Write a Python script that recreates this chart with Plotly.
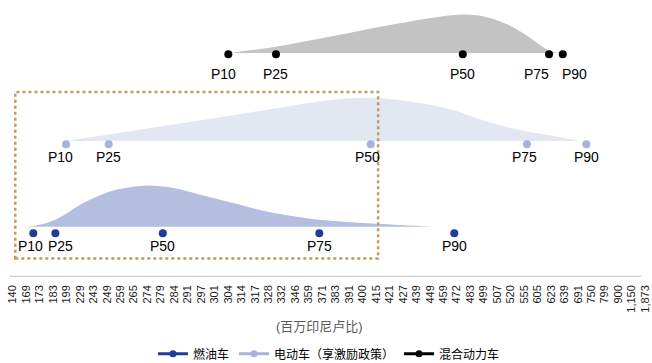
import plotly.graph_objects as go

# Price categories along the horizontal axis (million IDR)
categories = ["140", "169", "173", "183", "199", "229", "243", "249", "259", "265",
              "274", "279", "284", "291", "297", "301", "304", "314", "317", "328",
              "332", "346", "359", "371", "383", "391", "400", "415", "421", "427",
              "439", "449", "459", "472", "483", "499", "507", "520", "555", "605",
              "623", "639", "691", "750", "799", "900", "1,150", "1,873"]

pct_labels = ["P10", "P25", "P50", "P75", "P90"]

# Percentile positions on the category axis (index units)
ice_pct = [1.53, 3.17, 11.15, 22.78, 32.81]
ev_pct = [3.96, 7.13, 26.60, 38.21, 42.62]
hybrid_pct = [16.02, 19.56, 33.44, 39.85, 40.87]

# Price distribution curves: axis position and relative height
ice_curve_x = [0.67, 1.53, 3.17, 5.25, 7.23, 9.70, 11.93, 13.92, 16.39, 18.87, 22.78, 27.05, 31.25]
ice_curve_h = [0, 0.7, 7, 23.7, 35.3, 41, 38.7, 32, 23.7, 15.3, 7, 3, 0]

ev_curve_x = [4.01, 11.47, 17.63, 23.58, 25.4, 27.07, 30.26, 32.71, 35.24, 37.69, 40.15, 42.16]
ev_curve_h = [0, 15.5, 28.5, 41, 42.7, 43, 38, 31, 19.5, 11, 5, 0]

hybrid_curve_x = [16.15, 19.56, 23.06, 28.03, 31.75, 33.46, 35.0, 36.5, 37.9, 38.96, 39.77, 40.44]
hybrid_curve_h = [0, 6.3, 15, 28, 36.3, 38.5, 36.5, 30, 20, 10, 3, 0]

series_names = ["燃油车", "电动车（享激励政策）", "混合动力车"]

FONT = "Liberation Sans, Arial, Noto Sans CJK SC, sans-serif"

rows = [
    # name, pct, curve x, curve h, dot colour, fill colour, baseline, dot y, label y, label x-shifts
    (series_names[0], ice_pct, ice_curve_x, ice_curve_h, "#1F3C98", "#B4BFDF",
     50.3, 43.7, 31, [-3, 5, 0, 0, 0]),
    (series_names[1], ev_pct, ev_curve_x, ev_curve_h, "#A7B3DB", "#E3E7F2",
     136.0, 132.7, 120, [-6, 0, -3, -2, 0]),
    (series_names[2], hybrid_pct, hybrid_curve_x, hybrid_curve_h, "#000000", "#C3C3C3",
     224.0, 222.7, 203, [-5, 0, 0, -13, 12]),
]

fig = go.Figure()

# Filled distribution shapes
for name, pct, cx, ch, dot_c, fill_c, base, dot_y, lab_y, shifts in rows:
    fig.add_trace(go.Scatter(
        x=cx, y=[base + h for h in ch], mode="lines", fill="toself",
        fillcolor=fill_c, line=dict(width=0, shape="spline", smoothing=1.0),
        showlegend=False, hoverinfo="skip"))

# Percentile markers and labels
for name, pct, cx, ch, dot_c, fill_c, base, dot_y, lab_y, shifts in rows:
    fig.add_trace(go.Scatter(
        x=pct, y=[dot_y] * len(pct), mode="markers",
        marker=dict(size=8, color=dot_c), showlegend=False, hoverinfo="skip"))
    for p, lab, dx in zip(pct, pct_labels, shifts):
        fig.add_annotation(x=p, y=lab_y, text=lab, showarrow=False, xshift=dx,
                           font=dict(size=14, color="#000000", family=FONT))

# Legend entries
for name, pct, cx, ch, dot_c, fill_c, base, dot_y, lab_y, shifts in rows:
    fig.add_trace(go.Scatter(
        x=[None], y=[None], mode="lines+markers", name=name,
        line=dict(color=dot_c, width=3), marker=dict(size=7, color=dot_c)))

# Highlight box around the lower-priced segment
fig.add_shape(type="rect", xref="x", yref="y", x0=0.19, x1=27.15, y0=18.5, y1=185,
              line=dict(color="#C49A5C", width=2.5, dash="dot"), fillcolor="rgba(0,0,0,0)")

# Horizontal axis line
fig.add_shape(type="line", xref="x", yref="y", x0=-0.2, x1=46.7, y0=0.6, y1=0.6,
              line=dict(color="#D0D0D0", width=1.5))

fig.add_annotation(text="(百万印尼卢比)", xref="paper", yref="paper", x=0.486, y=-0.177,
                   yanchor="middle", showarrow=False,
                   font=dict(size=13, color="#595959", family=FONT))

fig.update_layout(
    width=652, height=363,
    margin=dict(l=6, r=0, t=0, b=86, autoexpand=False),
    paper_bgcolor="white", plot_bgcolor="white",
    font=dict(family=FONT),
    xaxis=dict(range=[-0.5, 47.5], tickmode="array", tickvals=list(range(len(categories))),
               ticktext=categories, tickangle=-90, showgrid=False, zeroline=False,
               showline=False, ticks="", tickfont=dict(size=11, color="#1A1A1A"),
               ticklabelstandoff=5, automargin=False, fixedrange=True),
    yaxis=dict(range=[0, 277], visible=False, fixedrange=True, automargin=False),
    legend=dict(orientation="h", x=0.5, xanchor="center", y=-0.225, yanchor="top",
                font=dict(size=12, color="#000000"), itemwidth=30,
                bgcolor="rgba(0,0,0,0)"),
)

fig.write_html("out.html", config={"displayModeBar": False})
